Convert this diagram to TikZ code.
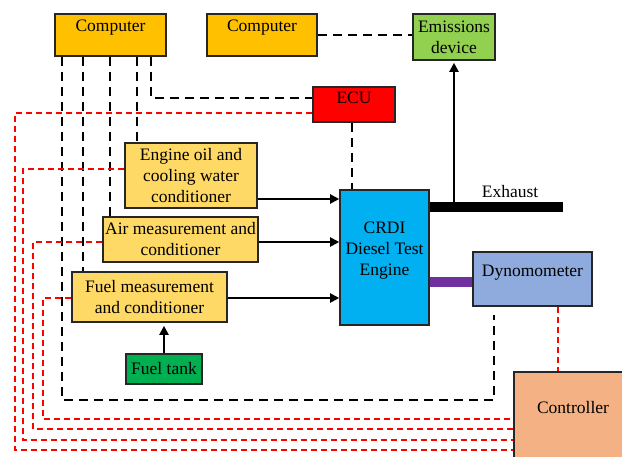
\documentclass[tikz,border=0pt]{standalone}
\usepackage{fontspec}
\setmainfont{Liberation Serif}
\usepackage{tikz}
\usetikzlibrary{arrows.meta}
\definecolor{compyellow}{HTML}{FFC000}
\definecolor{emisgreen}{HTML}{92D050}
\definecolor{ecured}{HTML}{FF0000}
\definecolor{condyellow}{HTML}{FFD966}
\definecolor{tankgreen}{HTML}{00B050}
\definecolor{engblue}{HTML}{00B0F0}
\definecolor{dynoblue}{HTML}{8FAADC}
\definecolor{ctrlorange}{HTML}{F4B183}
\definecolor{barpurple}{HTML}{7030A0}

\begin{document}
\begin{tikzpicture}[x=1pt, y=-1pt,
  box/.style={draw=black!85, line width=1.6pt, font=\fontsize{17.5}{21}\selectfont, align=center, inner sep=2pt},
  lbl/.style={font=\fontsize{17.5}{21}\selectfont},
  ctl/.style={line width=2.4pt, dash pattern=on 9pt off 6pt},
  sig/.style={ecured, line width=2.2pt, dash pattern=on 6pt off 4pt},
  flow/.style={line width=2pt, -{Triangle[length=9pt,width=9pt]}}]
\useasboundingbox (0,0) rectangle (622,457);
\clip (0,0) rectangle (622,457);

% blocks
\node[box, fill=compyellow, minimum width=111pt, minimum height=42pt, text depth=18pt] (comp1) at (110.5,35) {Computer};
\node[box, fill=compyellow, minimum width=110pt, minimum height=42pt, text depth=18pt] (comp2) at (262,35) {Computer};
\node[box, fill=emisgreen, minimum width=82pt, minimum height=46pt] (emis) at (454,37) {Emissions\\device};
\node[box, fill=ecured, minimum width=82pt, minimum height=35pt, text depth=13pt] (ecu) at (354,104.5) {ECU};
\node[box, fill=condyellow, minimum width=132pt, minimum height=65pt] (oil) at (191,175.5) {Engine oil and\\cooling water\\conditioner};
\node[box, fill=condyellow, minimum width=155pt, minimum height=45pt] (air) at (180.5,239.5) {Air measurement and\\conditioner};
\node[box, fill=condyellow, minimum width=155pt, minimum height=50pt] (fuel) at (149.5,297) {Fuel measurement\\and conditioner};
\node[box, fill=tankgreen, minimum width=76pt, minimum height=30pt] (tank) at (164,369) {Fuel tank};
\node[box, fill=engblue, minimum width=89pt, minimum height=135pt, text depth=18pt] (crdi) at (384.5,257.5) {CRDI\\Diesel Test\\Engine};
\node[box, fill=dynoblue, minimum width=119pt, minimum height=54pt, text depth=16pt] (dyno) at (532.5,279) {Dynomometer};
\node[box, fill=ctrlorange, minimum width=118pt, minimum height=98pt, text depth=28pt] (ctrl) at (573,421) {Controller};

% computer links
\draw[ctl] (comp1.south -| 151,0) |- (ecu.west |- 0,98);
\foreach \x/\n in {137/oil, 110/air, 83/fuel}
  \draw[ctl] (comp1.south -| \x,0) -- (\n.north -| \x,0);
\draw[ctl, shorten >=8pt] (comp1.south -| 62,0) |- (494,400) -- (dyno.south -| 494,0);
\draw[ctl] (comp2.east) -- (emis.west |- comp2.east);
\draw[ctl] (ecu.south -| 352,0) -- (crdi.north -| 352,0);

% controller signals
\foreach \n/\y/\x/\r in {ecu/113/15/450, oil/169/23/440, air/242/33/429, fuel/298/43/419}
  \draw[sig] (\n.west |- 0,\y) -| (\x,\r) -- (ctrl.west |- 0,\r);
\draw[sig] (dyno.south -| 558,0) -- (ctrl.north -| 558,0);

% supply to engine
\foreach \n/\y in {oil/199, air/242, fuel/298}
  \draw[flow] (\n.east |- 0,\y) -- (crdi.west |- 0,\y);
\draw[flow, shorten >=3pt] (tank.north) -- (fuel.south -| tank.north);

% exhaust and shaft
\coordinate (exhend) at (563,207.5);
\draw[flow, shorten >=2pt] (emis.south |- exhend) -- (emis.south);
\draw[line width=10pt] (crdi.east |- exhend) -- (exhend);
\node[lbl] (exhlbl) at (510,192) {Exhaust};
\draw[barpurple, line width=10pt] (crdi.east |- 0,282) -- (dyno.west |- 0,282);
\end{tikzpicture}
\end{document}
